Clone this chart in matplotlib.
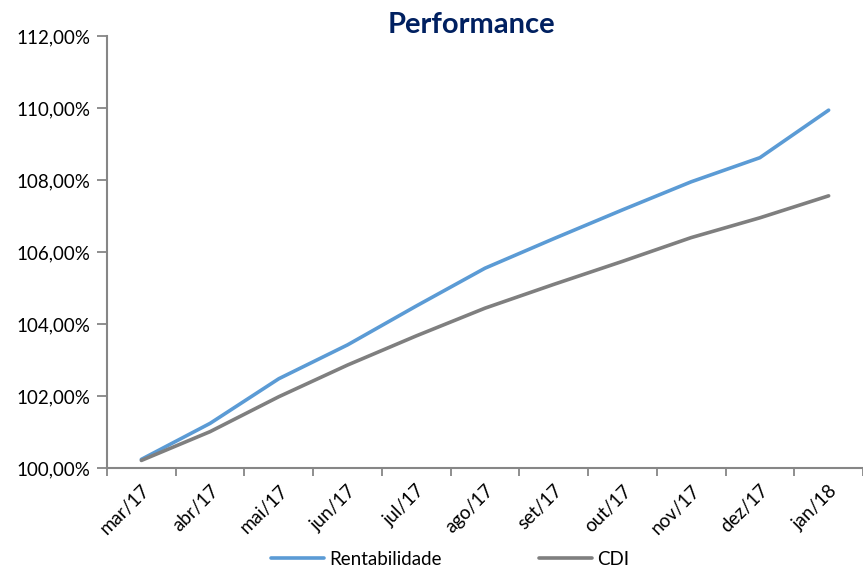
import numpy as np
import matplotlib.pyplot as plt
from matplotlib.ticker import FuncFormatter

plt.rcParams['font.family'] = ['Lato', 'DejaVu Sans']

meses = ['mar/17', 'abr/17', 'mai/17', 'jun/17', 'jul/17', 'ago/17',
         'set/17', 'out/17', 'nov/17', 'dez/17', 'jan/18']
rentabilidade = [100.24, 101.24, 102.48, 103.42, 104.50, 105.55,
                 106.37, 107.17, 107.95, 108.62, 109.94]
cdi = [100.21, 101.01, 101.98, 102.86, 103.67, 104.44,
       105.10, 105.74, 106.40, 106.95, 107.56]

W, H = 863, 579
fig = plt.figure(figsize=(W / 100, H / 100), dpi=100)
ax = fig.add_axes([107 / W, 1 - 468 / H, 1 - 107 / W, (468 - 36) / H])

x = np.arange(len(meses))
ax.plot(x, rentabilidade, color='#5B9BD5', lw=2.6, label='Rentabilidade', solid_capstyle='round')
ax.plot(x, cdi, color='#7F7F7F', lw=2.6, label='CDI', solid_capstyle='round')

ax.set_xlim(-0.5, 10.46)
ax.set_ylim(100, 112)
ax.set_yticks(np.arange(100, 113, 2))
ax.yaxis.set_major_formatter(FuncFormatter(lambda v, p: ('%.2f%%' % v).replace('.', ',')))

# ticks between categories, labels under centres
ax.set_xticks(np.arange(-0.5, 11, 1))
ax.set_xticklabels([])
ax.set_xticks(x, minor=True)
ax.set_xticklabels(meses, minor=True, rotation=45, ha='right', rotation_mode='anchor')
ax.tick_params(axis='x', which='minor', length=0, pad=10, labelsize=13.5)
ax.tick_params(axis='x', which='major', length=6, color='#868686', width=1.3)
ax.tick_params(axis='y', length=7, color='#868686', width=1.3, labelsize=13.5, pad=5)

for s in ['top', 'right']:
    ax.spines[s].set_visible(False)
for s in ['left', 'bottom']:
    ax.spines[s].set_color('#868686')
    ax.spines[s].set_linewidth(1.5)

fig.text(471 / W, 1 - 25 / H, 'Performance', ha='center', va='center',
         fontsize=21, fontweight='bold', color='#002060')

fig.legend(loc='lower center', bbox_to_anchor=(0.522, -0.01), ncol=2, frameon=False,
           fontsize=13.5, handlelength=2.8, columnspacing=5.2, handletextpad=0.3)

fig.savefig('out.png', dpi=100)
